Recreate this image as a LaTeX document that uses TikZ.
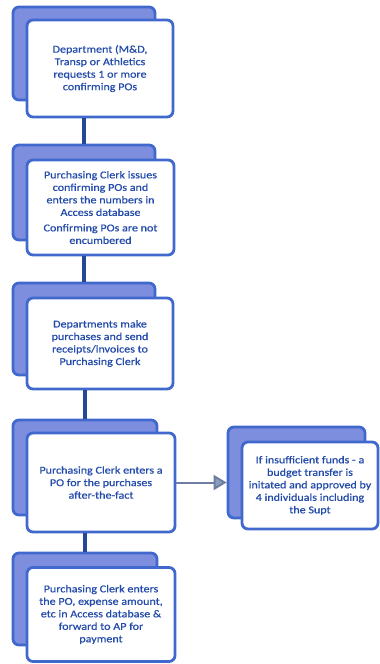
\documentclass[tikz,border=0pt]{standalone}
\usepackage{fontspec}
\setmainfont{Carlito}[FakeStretch=1.15,FakeBold=0.6]
\usetikzlibrary{arrows.meta}
\definecolor{bord}{RGB}{65,105,205}
\definecolor{backfill}{RGB}{125,142,222}
\definecolor{txt}{RGB}{35,75,170}
\definecolor{linkc}{RGB}{40,70,150}
\definecolor{arrline}{RGB}{110,125,160}
\definecolor{arrfill}{RGB}{140,158,190}
\begin{document}
\begin{tikzpicture}[x=1pt,y=1pt,
  backbox/.style={draw=bord,fill=backfill,line width=2.8pt,rounded corners=6pt,inner sep=0pt},
  frontbox/.style={draw=bord,fill=white,line width=2.8pt,rounded corners=6pt,inner sep=0pt,
    text=txt,align=center,font=\fontsize{10.5}{12.5}\selectfont},
  link/.style={draw=linkc,line width=4pt},
  arr/.style={draw=arrline,line width=2pt,-{Triangle[length=13pt,width=15pt,fill=arrfill]}}]
\useasboundingbox (0,0) rectangle (380,-664);

% box 1
\node[backbox,minimum width=142,minimum height=93] (b1) at (84,-53.5) {};
\node[frontbox,minimum width=146,minimum height=97] (f1) at (100,-68.5)
  {Department (M\&D,\\Transp  or Athletics\\requests 1 or more\\confirming POs};
% box 2
\node[backbox,minimum width=142,minimum height=95] (b2) at (84,-192.5) {};
\node[frontbox,minimum width=147,minimum height=95] (f2) at (100.5,-207.5)
  {\raisebox{0pt}[0pt][0pt]{}Purchasing Clerk issues\\confirming POs and\\enters the numbers in\\Access database\\[3pt]Confirming POs are not\\encumbered};
% box 3
\node[backbox,minimum width=142,minimum height=92] (b3) at (84,-329) {};
\node[frontbox,minimum width=146,minimum height=91] (f3) at (100,-343.5)
  {Departments make\\purchases and send\\receipts/invoices to\\Purchasing Clerk};
% box 4
\node[backbox,minimum width=144,minimum height=95] (b4) at (85,-467.5) {};
\node[frontbox,minimum width=148,minimum height=99] (f4) at (101,-482.5)
  {Purchasing Clerk enters a\\PO for the purchases\\after-the-fact};
% side box
\node[backbox,minimum width=137,minimum height=91] (sb) at (296.5,-472.5) {};
\node[frontbox,minimum width=136,minimum height=87] (sf) at (310,-485.5)
  {If insufficient funds - a\\budget transfer is\\initated and approved by\\4 individuals including\\the Supt};
% box 5
\node[backbox,minimum width=144,minimum height=92] (b5) at (85,-599) {};
\node[frontbox,minimum width=148,minimum height=94] (f5) at (101,-614.5)
  {Purchasing Clerk enters\\the PO, expense amount,\\etc in Access database \&\\forward to AP for\\payment};

% connectors
\draw[link] (b2.north |- f1.south) -- (b2.north);
\draw[link] (b3.north |- f2.south) -- (b3.north);
\draw[link] (b4.north |- f3.south) -- (b4.north);
\draw[link] (b5.north |- f4.south) -- (b5.north);
\draw[arr] (f4.east) -- (sb.west |- f4.east);
\end{tikzpicture}
\end{document}
